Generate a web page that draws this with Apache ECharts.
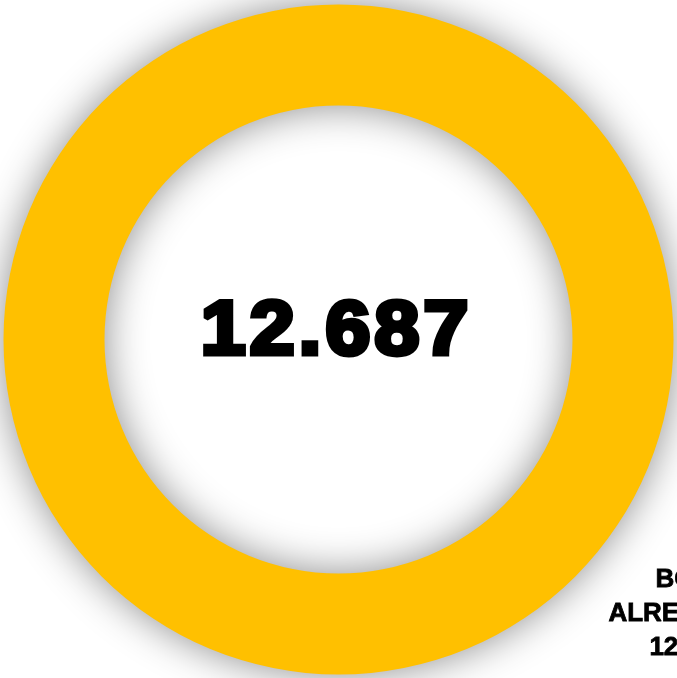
<!DOCTYPE html>
<html><head><meta charset="utf-8">
<script src="https://cdn.jsdelivr.net/npm/echarts@6/dist/echarts.min.js"></script>
<style>html,body{margin:0;padding:0;background:#fff}#c{width:677px;height:678px}</style>
</head><body><div id="c"></div>
<script>
const categories = ['BOXES ALREADY SOLD'];
const values = [12687];
const sideLines = ['BOXES', 'ALREADY SOLD', '12.687'];

function fmt(v){ return String(v).replace(/\B(?=(\d{3})+(?!\d))/g, '.'); }
const FONT = '"Liberation Sans", Arial, sans-serif';
const centerText = fmt(values[0]).split('').map(ch => '{d|' + ch + '}').join('');

const chart = echarts.init(document.getElementById('c'), null, {renderer:'canvas'});
chart.setOption({
  animation:false,
  backgroundColor:'#ffffff',
  series:[{
    type:'pie',
    center:[338.5, 339.5],
    radius:[234, 335],
    silent:true,
    startAngle:90,
    itemStyle:{color:'#FFC000', shadowBlur:40, shadowColor:'rgba(0,0,0,0.45)', shadowOffsetX:0, shadowOffsetY:0},
    label:{show:false},
    labelLine:{show:false},
    data: categories.map((c,i)=>({name:c, value:values[i]}))
  }],
  graphic:[
    {type:'text', x:334.5, y:333.5, scaleX:1.06, z:10,
     style:{text:centerText, font:'bold 76px ' + FONT, fill:'#000', stroke:'#000', lineWidth:5,
            textAlign:'center', textVerticalAlign:'middle',
            rich:{d:{font:'bold 76px ' + FONT, fill:'#000', stroke:'#000', lineWidth:5, padding:[0,2,0,2]}}}},
    {type:'text', left:655, top:566, style:{text:sideLines[0], font:'bold 26px ' + FONT, fill:'#000', stroke:'#000', lineWidth:0.8}},
    {type:'text', left:608, top:600, style:{text:sideLines[1], font:'bold 26px ' + FONT, fill:'#000', stroke:'#000', lineWidth:0.8}},
    {type:'text', left:649, top:634, style:{text:sideLines[2], font:'bold 26px ' + FONT, fill:'#000', stroke:'#000', lineWidth:0.8}}
  ]
});
</script></body></html>
